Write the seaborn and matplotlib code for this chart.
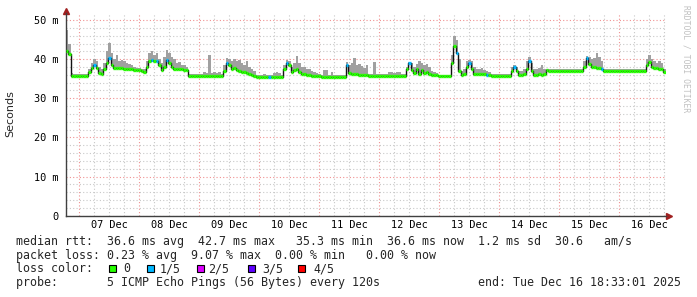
import numpy as np
import pandas as pd
import matplotlib
matplotlib.use("Agg")
import matplotlib.pyplot as plt
import matplotlib.dates as mdates
from matplotlib.ticker import MultipleLocator, FuncFormatter
from matplotlib.patches import Rectangle
import seaborn as sns

# ---------------- data (hourly, ms) ----------------
start = "2025-12-06 18:33:01"
end = "2025-12-16 18:33:01"

median_ms = [
    42.0, 41.3, 35.8, 35.8, 35.8, 35.8, 35.8, 35.8, 35.8, 36.8,
    37.8, 38.4, 37.8, 36.5, 36.3, 37.5, 39.0, 40.4, 38.5, 37.8,
    37.8, 37.8, 37.8, 37.6, 37.6, 37.6, 37.6, 37.3, 37.2, 37.2,
    37.1, 36.8, 38.0, 39.5, 39.8, 39.5, 39.6, 38.5, 37.3, 38.0,
    39.8, 39.0, 38.0, 37.6, 37.5, 37.4, 37.4, 37.3, 37.2, 35.8,
    35.8, 35.8, 35.8, 35.8, 35.8, 35.8, 35.8, 35.8, 35.8, 35.8,
    35.8, 35.8, 35.8, 37.0, 39.1, 38.6, 37.5, 37.8, 37.2, 37.0,
    36.8, 36.6, 36.4, 36.2, 36.0, 35.8, 35.4, 35.4, 35.4, 35.4,
    35.4, 35.4, 35.4, 35.4, 35.4, 35.4, 35.4, 37.5, 39.0, 38.5,
    36.6, 37.2, 37.6, 36.8, 36.3, 36.1, 36.0, 35.9, 35.8, 35.7,
    35.6, 35.6, 35.5, 35.5, 35.5, 35.5, 35.5, 35.5, 35.5, 35.5,
    35.5, 35.5, 38.5, 36.5, 36.3, 36.2, 36.1, 36.0, 36.0, 35.9,
    35.9, 35.8, 35.8, 35.8, 35.8, 35.8, 35.8, 35.8, 35.8, 35.8,
    35.8, 35.8, 35.8, 35.8, 35.8, 35.8, 37.5, 39.0, 37.2, 36.5,
    37.5, 36.3, 37.2, 36.5, 36.8, 36.2, 36.0, 36.0, 36.0, 35.6,
    35.6, 35.6, 35.6, 35.6, 39.0, 43.3, 41.5, 37.0, 36.0, 36.2,
    38.0, 39.1, 37.5, 36.3, 36.3, 36.2, 36.2, 36.1, 36.0, 36.0,
    35.8, 35.8, 35.8, 35.8, 35.8, 35.8, 35.8, 35.8, 37.0, 38.1,
    37.0, 36.0, 36.0, 36.2, 37.5, 39.5, 37.0, 36.0, 36.0, 36.1,
    36.0, 36.3, 37.2, 37.0, 37.0, 37.0, 37.0, 37.0, 37.0, 37.0,
    37.0, 37.0, 37.0, 37.0, 37.0, 37.0, 37.0, 38.0, 40.2, 38.8,
    38.0, 37.9, 37.8, 37.8, 37.5, 37.0, 37.0, 37.0, 37.0, 37.0,
    37.0, 37.0, 37.0, 37.0, 37.0, 37.0, 37.0, 37.0, 37.0, 37.0,
    37.0, 37.0, 38.5, 39.4, 38.0, 37.8, 37.7, 37.6, 37.5, 36.8,
]

smoke_hi_ms = [
    47.5, 44.0, 36.5, 36.2, 36.2, 36.2, 36.2, 36.2, 36.3, 37.5,
    39.0, 40.0, 39.5, 38.0, 37.5, 39.0, 42.0, 44.2, 41.5, 40.0,
    41.0, 39.5, 39.8, 39.5, 39.0, 38.8, 38.5, 38.0, 37.8, 37.8,
    37.6, 37.5, 39.5, 41.5, 42.0, 41.0, 41.5, 40.0, 39.0, 40.5,
    42.4, 41.5, 40.5, 40.0, 39.0, 39.2, 38.5, 38.5, 38.0, 36.3,
    36.3, 36.3, 36.3, 36.3, 36.3, 36.8, 36.5, 41.0, 36.5, 36.8,
    36.5, 36.8, 36.3, 38.5, 40.2, 40.0, 39.5, 40.0, 39.5, 39.8,
    39.0, 38.5, 39.5, 38.0, 37.5, 37.0, 35.9, 35.9, 35.9, 36.2,
    35.9, 36.0, 35.9, 36.5, 36.8, 36.5, 36.0, 38.5, 39.8, 39.5,
    38.0, 39.0, 40.9, 39.0, 38.0, 38.0, 37.5, 37.5, 37.0, 36.8,
    36.5, 36.3, 36.0, 37.3, 37.3, 36.0, 36.8, 36.0, 35.9, 36.0,
    35.9, 36.0, 39.4, 38.5, 39.0, 40.2, 38.5, 38.8, 38.2, 37.8,
    38.5, 36.2, 36.2, 39.4, 36.2, 36.2, 36.2, 36.3, 36.2, 36.6,
    36.6, 36.5, 36.6, 36.6, 36.2, 36.2, 38.0, 39.4, 39.0, 38.0,
    38.8, 39.6, 39.0, 38.5, 38.8, 38.0, 37.0, 36.8, 36.5, 35.9,
    35.9, 35.9, 36.0, 35.9, 41.0, 46.0, 45.0, 40.0, 37.0, 37.5,
    39.5, 39.8, 39.5, 38.0, 37.5, 37.5, 37.8, 37.2, 37.0, 36.8,
    36.2, 36.2, 36.2, 36.2, 36.2, 36.2, 36.2, 36.2, 38.0, 38.5,
    38.0, 37.0, 37.0, 37.5, 39.5, 40.5, 39.0, 37.5, 37.5, 37.8,
    38.5, 37.5, 37.5, 37.4, 37.5, 37.4, 37.4, 37.5, 37.4, 37.4,
    37.4, 37.5, 37.4, 37.4, 37.5, 37.4, 37.4, 39.5, 40.7, 40.5,
    40.0, 40.3, 41.7, 40.5, 39.5, 37.5, 37.4, 37.4, 37.4, 37.4,
    37.4, 37.5, 37.4, 37.4, 37.4, 37.4, 37.5, 37.4, 37.4, 37.4,
    37.4, 37.5, 40.0, 41.1, 40.0, 39.5, 39.0, 39.5, 39.0, 37.5,
]

# hours (index) where the median shows 1/5 packet loss
loss_1of5_hours = [11, 17, 34, 36, 40, 64, 81, 88, 112, 137, 156, 161,
                   168, 179, 185, 208, 214]

loss_labels = ["0", "1/5", "2/5", "3/5", "4/5"]
loss_colors = ["#26ff00", "#00b8ff", "#dd00ff", "#5e00ff", "#ff0000"]

line_rtt = "median rtt:  36.6 ms avg  42.7 ms max   35.3 ms min  36.6 ms now  1.2 ms sd  30.6   am/s"
line_loss = "packet loss: 0.23 % avg  9.07 % max  0.00 % min   0.00 % now"
line_probe = "probe:       5 ICMP Echo Pings (56 Bytes) every 120s"
line_end = "end: Tue Dec 16 18:33:01 2025"

# ---------------- figure ----------------
sns.set_theme(style="white")
plt.rcParams["font.family"] = ["DejaVu Sans Mono", "DejaVu Sans"]

W, H = 697, 297
fig = plt.figure(figsize=(W / 100, H / 100), dpi=100)
fig.patch.set_facecolor("white")
ax_l, ax_r, ax_t, ax_b = 65.7, 665.7, 13.0, 215.7
ax = fig.add_axes([ax_l / W, 1 - ax_b / H, (ax_r - ax_l) / W, (ax_b - ax_t) / H])
ax.set_facecolor("white")

n = len(median_ms)
edges = pd.date_range(start, periods=n + 1, freq="h")
med = np.array(median_ms)
hi = np.array(smoke_hi_ms)

df = pd.DataFrame({"time": edges, "median": np.append(med, med[-1]),
                   "hi": np.append(hi, hi[-1])})

# smoke
ax.fill_between(df["time"], df["median"], df["hi"], step="post",
                color="#a0a0a0", linewidth=0, zorder=2)
# dark median trace (visible on transitions)
sns.lineplot(data=df, x="time", y="median", ax=ax, color="#111111",
             drawstyle="steps-post", linewidth=1.0, zorder=3)
# loss coloured median ticks
colors = [loss_colors[1] if i in loss_1of5_hours else loss_colors[0] for i in range(n)]
ax.hlines(med, edges[:-1], edges[1:], colors=colors, linewidth=2.4, zorder=4)

ax.set_xlim(pd.Timestamp(start), pd.Timestamp(end))
ax.set_ylim(0, 51.8)
ax.set_xlabel("")
ax.set_ylabel("")

# grid
ax.xaxis.set_major_locator(mdates.DayLocator())
ax.xaxis.set_minor_locator(mdates.HourLocator(byhour=[0, 6, 12, 18]))
ax.xaxis.set_major_formatter(FuncFormatter(lambda v, p: ""))
ax.xaxis.set_minor_formatter(FuncFormatter(
    lambda v, p: mdates.num2date(v).strftime("%d Dec") if mdates.num2date(v).hour == 12 else ""))
ax.yaxis.set_major_locator(MultipleLocator(10))
ax.yaxis.set_minor_locator(MultipleLocator(2))
ax.yaxis.set_major_formatter(FuncFormatter(lambda v, p: "0" if v == 0 else f"{int(v)} m"))

ax.grid(which="minor", color="#c8c8c8", linestyle=(0, (1, 2)), linewidth=0.8)
ax.grid(which="major", color="#f09090", linestyle=(0, (1, 2)), linewidth=0.8)
ax.set_axisbelow(True)

ax.tick_params(axis="both", which="both", direction="out", colors="#555555",
               labelcolor="black", labelsize=7.4, length=2, width=0.6)
ax.tick_params(axis="x", which="minor", pad=1)
ax.tick_params(axis="y", which="major", pad=3)

for s in ["top", "right"]:
    ax.spines[s].set_visible(False)
for s in ["left", "bottom"]:
    ax.spines[s].set_color("#404040")
    ax.spines[s].set_linewidth(1.0)

# arrows
ax.plot([0], [1.012], marker="^", color="#a02020", markersize=4.5,
        transform=ax.transAxes, clip_on=False)
ax.plot([1.006], [0], marker=">", color="#a02020", markersize=4.5,
        transform=ax.transAxes, clip_on=False)

# y label
fig.text(10 / W, 1 - 113.5 / H, "Seconds", rotation=90, ha="center", va="center",
         fontsize=8, family="DejaVu Sans")

# watermark
fig.text(686 / W, 1 - 5 / H, "RRDTOOL / TOBI OETIKER", rotation=270, ha="center",
         va="top", fontsize=5.8, color="#c0c0c0", family="DejaVu Sans Mono")

# legend text
fs = 8.4
def ytxt(py):
    return 1 - py / H
fig.text(16 / W, ytxt(242), line_rtt, fontsize=fs, va="center", ha="left")
fig.text(16 / W, ytxt(255.3), line_loss, fontsize=fs, va="center", ha="left")
fig.text(16 / W, ytxt(268.7), "loss color:", fontsize=fs, va="center", ha="left")
box_x = [109, 146.5, 196.5, 247.5, 298]
lab_x = [123, 160, 208, 262, 313]
for bx, lx, lab, col in zip(box_x, lab_x, loss_labels, loss_colors):
    fig.patches.append(Rectangle((bx / W, 1 - 272 / H), 7 / W, 7 / H,
                                 transform=fig.transFigure, facecolor=col,
                                 edgecolor="black", linewidth=0.8))
    fig.text(lx / W, ytxt(268.7), lab, fontsize=fs, va="center", ha="left")
fig.text(16 / W, ytxt(282.7), line_probe, fontsize=fs, va="center", ha="left")
fig.text(478 / W, ytxt(282.7), line_end, fontsize=fs, va="center", ha="left")

fig.savefig("out.png", dpi=100, facecolor="white")
